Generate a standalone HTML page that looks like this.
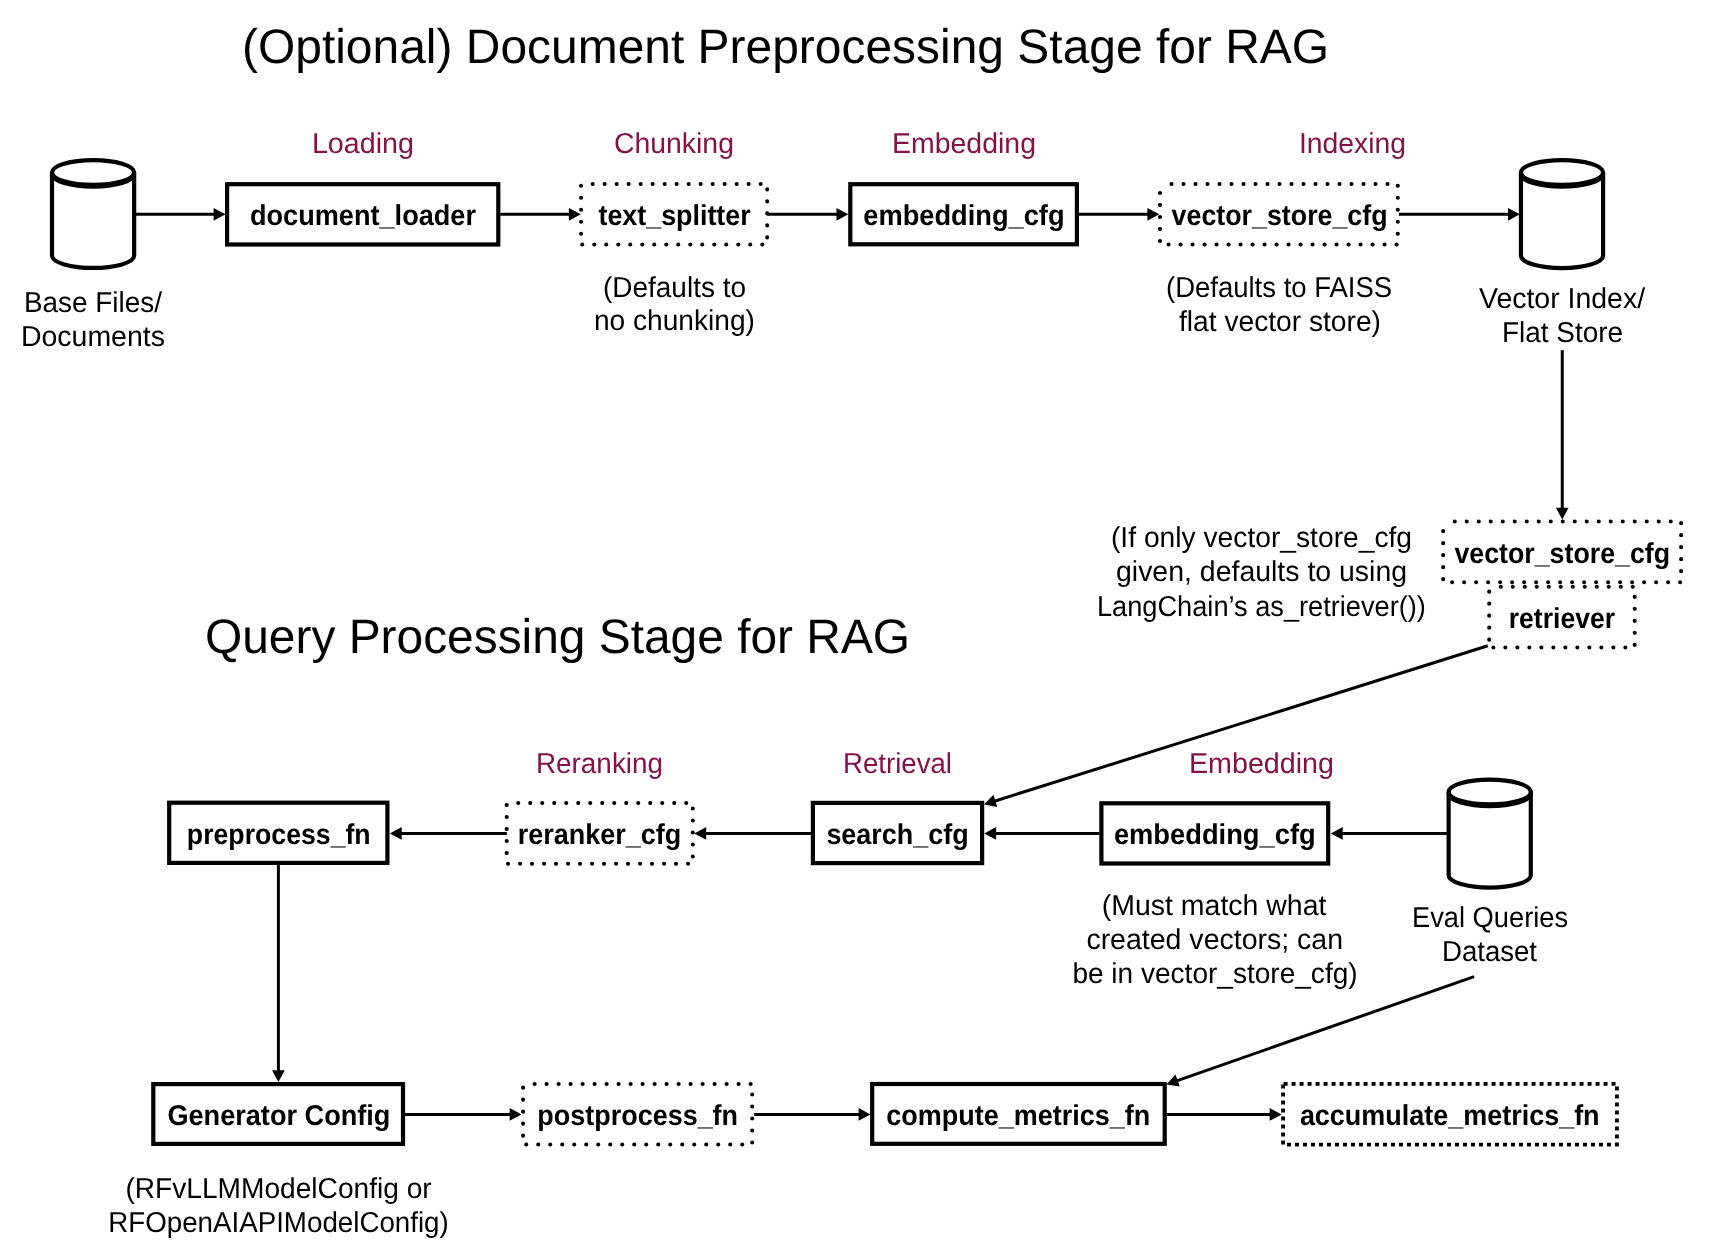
<!DOCTYPE html>
<html><head><meta charset="utf-8"><style>
html,body{margin:0;padding:0;background:#fff;}
body{width:1709px;height:1252px;overflow:hidden;}
svg{display:block;will-change:transform;}
text{font-family:"Liberation Sans",sans-serif;white-space:pre;text-rendering:geometricPrecision;}
</style></head><body>
<svg width="1709" height="1252" viewBox="0 0 1709 1252">
<rect width="1709" height="1252" fill="#fff"/>
<path d="M52.00,172.45 L52.00,255.75 A41.08,12.4 0 0 0 134.15,255.75 L134.15,172.45" fill="#fff" stroke="#000" stroke-width="4.2"/><ellipse cx="93.08" cy="172.45" rx="41.08" ry="12.4" fill="#fff" stroke="#000" stroke-width="4.2"/><path d="M52.00,174.35 A41.08,12.4 0 0 0 134.15,174.35" fill="none" stroke="#000" stroke-width="4.2"/>
<path d="M1520.95,172.55 L1520.95,255.85 A41.08,12.4 0 0 0 1603.10,255.85 L1603.10,172.55" fill="#fff" stroke="#000" stroke-width="4.2"/><ellipse cx="1562.02" cy="172.55" rx="41.08" ry="12.4" fill="#fff" stroke="#000" stroke-width="4.2"/><path d="M1520.95,174.45 A41.08,12.4 0 0 0 1603.10,174.45" fill="none" stroke="#000" stroke-width="4.2"/>
<path d="M1448.65,792.05 L1448.65,875.35 A41.08,12.4 0 0 0 1530.80,875.35 L1530.80,792.05" fill="#fff" stroke="#000" stroke-width="4.2"/><ellipse cx="1489.72" cy="792.05" rx="41.08" ry="12.4" fill="#fff" stroke="#000" stroke-width="4.2"/><path d="M1448.65,793.95 A41.08,12.4 0 0 0 1530.80,793.95" fill="none" stroke="#000" stroke-width="4.2"/>
<rect x="227.10" y="184.20" width="271.20" height="60.30" fill="none" stroke="#000" stroke-width="4.2"/>
<rect x="850.30" y="184.20" width="226.60" height="60.10" fill="none" stroke="#000" stroke-width="4.2"/>
<rect x="169.20" y="802.70" width="218.20" height="60.20" fill="none" stroke="#000" stroke-width="4.2"/>
<rect x="812.90" y="802.90" width="169.20" height="60.20" fill="none" stroke="#000" stroke-width="4.2"/>
<rect x="1101.40" y="803.30" width="226.80" height="60.20" fill="none" stroke="#000" stroke-width="4.2"/>
<rect x="153.30" y="1084.10" width="249.70" height="59.80" fill="none" stroke="#000" stroke-width="4.2"/>
<rect x="872.20" y="1084.00" width="292.50" height="59.80" fill="none" stroke="#000" stroke-width="4.2"/>
<rect x="581.07" y="184.00" width="186.13" height="60.50" fill="none" stroke="#000" stroke-width="4.1" stroke-linecap="round" stroke-dasharray="0 12" stroke-dashoffset="0.45"/>
<rect x="1160.00" y="184.00" width="237.80" height="60.50" fill="none" stroke="#000" stroke-width="4.1" stroke-linecap="round" stroke-dasharray="0 12" stroke-dashoffset="0.45"/>
<rect x="1443.20" y="521.50" width="237.90" height="60.70" fill="none" stroke="#000" stroke-width="4.1" stroke-linecap="round" stroke-dasharray="0 12" stroke-dashoffset="0.45"/>
<rect x="1489.20" y="586.80" width="145.50" height="60.70" fill="none" stroke="#000" stroke-width="4.1" stroke-linecap="round" stroke-dasharray="0 12" stroke-dashoffset="0.45"/>
<rect x="506.70" y="803.00" width="186.10" height="60.70" fill="none" stroke="#000" stroke-width="4.1" stroke-linecap="round" stroke-dasharray="0 12" stroke-dashoffset="0.45"/>
<rect x="523.10" y="1084.00" width="229.10" height="60.50" fill="none" stroke="#000" stroke-width="4.1" stroke-linecap="round" stroke-dasharray="0 12" stroke-dashoffset="0.45"/>
<rect x="1283.07" y="1083.95" width="333.88" height="60.65" fill="none" stroke="#000" stroke-width="3.8" stroke-dasharray="4 4" stroke-dashoffset="-0.5"/>
<line x1="136.00" y1="214.30" x2="214.60" y2="214.30" stroke="#000" stroke-width="3.0"/><polygon points="225.50,214.30 213.60,220.70 213.60,207.90" fill="#000"/>
<line x1="500.20" y1="214.30" x2="569.90" y2="214.30" stroke="#000" stroke-width="3.0"/><polygon points="580.80,214.30 568.90,220.70 568.90,207.90" fill="#000"/>
<line x1="767.20" y1="214.30" x2="837.50" y2="214.30" stroke="#000" stroke-width="3.0"/><polygon points="848.40,214.30 836.50,220.70 836.50,207.90" fill="#000"/>
<line x1="1078.80" y1="214.30" x2="1148.40" y2="214.30" stroke="#000" stroke-width="3.0"/><polygon points="1159.30,214.30 1147.40,220.70 1147.40,207.90" fill="#000"/>
<line x1="1398.80" y1="214.30" x2="1509.00" y2="214.30" stroke="#000" stroke-width="3.0"/><polygon points="1519.90,214.30 1508.00,220.70 1508.00,207.90" fill="#000"/>
<line x1="1562.25" y1="350.20" x2="1562.25" y2="508.70" stroke="#000" stroke-width="3.0"/><polygon points="1562.25,519.60 1555.85,507.70 1568.65,507.70" fill="#000"/>
<line x1="1487.80" y1="645.80" x2="994.40" y2="801.23" stroke="#000" stroke-width="3.0"/><polygon points="984.00,804.50 993.43,794.82 997.27,807.03" fill="#000"/>
<line x1="1446.80" y1="833.45" x2="1341.70" y2="833.45" stroke="#000" stroke-width="3.0"/><polygon points="1330.80,833.45 1342.70,827.05 1342.70,839.85" fill="#000"/>
<line x1="1099.50" y1="833.45" x2="995.10" y2="833.45" stroke="#000" stroke-width="3.0"/><polygon points="984.20,833.45 996.10,827.05 996.10,839.85" fill="#000"/>
<line x1="811.00" y1="833.45" x2="705.20" y2="833.45" stroke="#000" stroke-width="3.0"/><polygon points="694.30,833.45 706.20,827.05 706.20,839.85" fill="#000"/>
<line x1="506.90" y1="833.45" x2="400.70" y2="833.45" stroke="#000" stroke-width="3.0"/><polygon points="389.80,833.45 401.70,827.05 401.70,839.85" fill="#000"/>
<line x1="278.40" y1="864.80" x2="278.40" y2="1071.20" stroke="#000" stroke-width="3.0"/><polygon points="278.40,1082.10 272.00,1070.20 284.80,1070.20" fill="#000"/>
<line x1="404.90" y1="1114.40" x2="510.70" y2="1114.40" stroke="#000" stroke-width="3.0"/><polygon points="521.60,1114.40 509.70,1120.80 509.70,1108.00" fill="#000"/>
<line x1="754.20" y1="1114.40" x2="859.60" y2="1114.40" stroke="#000" stroke-width="3.0"/><polygon points="870.50,1114.40 858.60,1120.80 858.60,1108.00" fill="#000"/>
<line x1="1166.60" y1="1114.40" x2="1270.70" y2="1114.40" stroke="#000" stroke-width="3.0"/><polygon points="1281.60,1114.40 1269.70,1120.80 1269.70,1108.00" fill="#000"/>
<line x1="1474.10" y1="976.60" x2="1176.69" y2="1080.89" stroke="#000" stroke-width="3.0"/><polygon points="1166.40,1084.50 1175.51,1074.52 1179.75,1086.60" fill="#000"/>
<text x="241.99" y="63.30" font-size="48.5" font-weight="400" fill="#000" textLength="1087.10" lengthAdjust="spacingAndGlyphs">(Optional) Document Preprocessing Stage for RAG</text>
<text x="204.98" y="653.00" font-size="48.5" font-weight="400" fill="#000" textLength="705.13" lengthAdjust="spacingAndGlyphs">Query Processing Stage for RAG</text>
<text x="311.92" y="153.10" font-size="28.8" font-weight="400" fill="#84124a" textLength="102.14" lengthAdjust="spacingAndGlyphs">Loading</text>
<text x="613.96" y="153.20" font-size="28.8" font-weight="400" fill="#84124a" textLength="120.01" lengthAdjust="spacingAndGlyphs">Chunking</text>
<text x="891.95" y="153.10" font-size="28.8" font-weight="400" fill="#84124a" textLength="144.03" lengthAdjust="spacingAndGlyphs">Embedding</text>
<text x="1298.92" y="153.20" font-size="28.8" font-weight="400" fill="#84124a" textLength="107.02" lengthAdjust="spacingAndGlyphs">Indexing</text>
<text x="535.95" y="773.30" font-size="28.8" font-weight="400" fill="#84124a" textLength="127.10" lengthAdjust="spacingAndGlyphs">Reranking</text>
<text x="842.94" y="773.40" font-size="28.8" font-weight="400" fill="#84124a" textLength="109.02" lengthAdjust="spacingAndGlyphs">Retrieval</text>
<text x="1188.93" y="773.30" font-size="28.8" font-weight="400" fill="#84124a" textLength="145.07" lengthAdjust="spacingAndGlyphs">Embedding</text>
<text x="249.98" y="224.90" font-size="28.8" font-weight="700" fill="#000" textLength="226.05" lengthAdjust="spacingAndGlyphs">document_loader</text>
<text x="598.49" y="224.90" font-size="28.8" font-weight="700" fill="#000" textLength="152.20" lengthAdjust="spacingAndGlyphs">text_splitter</text>
<text x="863.29" y="224.90" font-size="28.8" font-weight="700" fill="#000" textLength="201.28" lengthAdjust="spacingAndGlyphs">embedding_cfg</text>
<text x="1171.59" y="224.90" font-size="28.8" font-weight="700" fill="#000" textLength="216.00" lengthAdjust="spacingAndGlyphs">vector_store_cfg</text>
<text x="1454.39" y="562.50" font-size="28.8" font-weight="700" fill="#000" textLength="215.70" lengthAdjust="spacingAndGlyphs">vector_store_cfg</text>
<text x="1508.78" y="627.80" font-size="28.8" font-weight="700" fill="#000" textLength="106.28" lengthAdjust="spacingAndGlyphs">retriever</text>
<text x="186.87" y="844.10" font-size="28.8" font-weight="700" fill="#000" textLength="183.81" lengthAdjust="spacingAndGlyphs">preprocess_fn</text>
<text x="517.85" y="844.10" font-size="28.8" font-weight="700" fill="#000" textLength="163.39" lengthAdjust="spacingAndGlyphs">reranker_cfg</text>
<text x="826.38" y="844.10" font-size="28.8" font-weight="700" fill="#000" textLength="142.31" lengthAdjust="spacingAndGlyphs">search_cfg</text>
<text x="1113.88" y="844.10" font-size="28.8" font-weight="700" fill="#000" textLength="201.79" lengthAdjust="spacingAndGlyphs">embedding_cfg</text>
<text x="167.39" y="1124.90" font-size="28.8" font-weight="700" fill="#000" textLength="223.07" lengthAdjust="spacingAndGlyphs">Generator Config</text>
<text x="537.37" y="1124.90" font-size="28.8" font-weight="700" fill="#000" textLength="200.71" lengthAdjust="spacingAndGlyphs">postprocess_fn</text>
<text x="886.18" y="1124.90" font-size="28.8" font-weight="700" fill="#000" textLength="264.15" lengthAdjust="spacingAndGlyphs">compute_metrics_fn</text>
<text x="1299.89" y="1124.90" font-size="28.8" font-weight="700" fill="#000" textLength="299.73" lengthAdjust="spacingAndGlyphs">accumulate_metrics_fn</text>
<text x="23.96" y="312.00" font-size="28.8" font-weight="400" fill="#000" textLength="137.99" lengthAdjust="spacingAndGlyphs">Base Files/</text>
<text x="20.96" y="345.90" font-size="28.8" font-weight="400" fill="#000" textLength="143.96" lengthAdjust="spacingAndGlyphs">Documents</text>
<text x="602.98" y="296.60" font-size="28.8" font-weight="400" fill="#000" textLength="143.04" lengthAdjust="spacingAndGlyphs">(Defaults to</text>
<text x="593.96" y="330.30" font-size="28.8" font-weight="400" fill="#000" textLength="160.98" lengthAdjust="spacingAndGlyphs">no chunking)</text>
<text x="1165.99" y="296.50" font-size="28.8" font-weight="400" fill="#000" textLength="226.14" lengthAdjust="spacingAndGlyphs">(Defaults to FAISS</text>
<text x="1178.98" y="330.50" font-size="28.8" font-weight="400" fill="#000" textLength="201.98" lengthAdjust="spacingAndGlyphs">flat vector store)</text>
<text x="1479.00" y="308.00" font-size="28.8" font-weight="400" fill="#000" textLength="166.08" lengthAdjust="spacingAndGlyphs">Vector Index/</text>
<text x="1501.95" y="341.70" font-size="28.8" font-weight="400" fill="#000" textLength="121.17" lengthAdjust="spacingAndGlyphs">Flat Store</text>
<text x="1110.97" y="547.20" font-size="28.8" font-weight="400" fill="#000" textLength="301.10" lengthAdjust="spacingAndGlyphs">(If only vector_store_cfg</text>
<text x="1115.99" y="581.20" font-size="28.8" font-weight="400" fill="#000" textLength="291.09" lengthAdjust="spacingAndGlyphs">given, defaults to using</text>
<text x="1096.98" y="615.60" font-size="28.8" font-weight="400" fill="#000" textLength="328.95" lengthAdjust="spacingAndGlyphs">LangChain’s as_retriever())</text>
<text x="1101.79" y="914.90" font-size="28.8" font-weight="400" fill="#000" textLength="224.60" lengthAdjust="spacingAndGlyphs">(Must match what</text>
<text x="1086.38" y="948.70" font-size="28.8" font-weight="400" fill="#000" textLength="256.69" lengthAdjust="spacingAndGlyphs">created vectors; can</text>
<text x="1072.38" y="982.80" font-size="28.8" font-weight="400" fill="#000" textLength="285.25" lengthAdjust="spacingAndGlyphs">be in vector_store_cfg)</text>
<text x="1411.96" y="927.40" font-size="28.8" font-weight="400" fill="#000" textLength="156.15" lengthAdjust="spacingAndGlyphs">Eval Queries</text>
<text x="1441.97" y="961.30" font-size="28.8" font-weight="400" fill="#000" textLength="95.05" lengthAdjust="spacingAndGlyphs">Dataset</text>
<text x="125.39" y="1198.20" font-size="28.8" font-weight="400" fill="#000" textLength="306.34" lengthAdjust="spacingAndGlyphs">(RFvLLMModelConfig or</text>
<text x="108.19" y="1232.40" font-size="28.8" font-weight="400" fill="#000" textLength="340.59" lengthAdjust="spacingAndGlyphs">RFOpenAIAPIModelConfig)</text>
</svg>
</body></html>
